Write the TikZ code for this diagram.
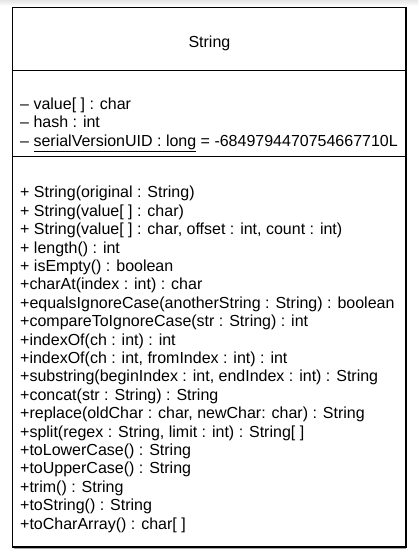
\documentclass[tikz,border=0pt]{standalone}
\usepackage{fontspec}
\setmainfont{Liberation Sans}
\begin{document}
\begin{tikzpicture}[x=1pt,y=-1pt,
  umltext/.style={anchor=base west,inner sep=0pt,align=left,font=\fontsize{16}{18.4}\selectfont},
  umltitle/.style={anchor=base,inner sep=0pt,font=\fontsize{16}{18.4}\selectfont},
  border/.style={draw=black,line width=1.3pt},
  sep/.style={draw=black,line width=1.2pt}]
\useasboundingbox (0,0) rectangle (418,556);
\fill[white] (0,0) rectangle (418,556);
\shade[top color=black!10,bottom color=white] (0,0) rectangle (418,6);
% shadow hints
\draw[black!35,line width=1pt] (405,8) -- (405,546);
\draw[black!35,line width=1pt] (14,548.5) -- (406,548.5);
\coordinate (tl) at (12.7,7.3);
\coordinate (br) at (406,547);
\draw[border] (tl) rectangle (br);
\coordinate (s1l) at (12.7,70.3);
\coordinate (s1r) at (406,70.3);
\coordinate (s2l) at (12.7,156.3);
\coordinate (s2r) at (406,156.3);
\draw[sep] (s1l) -- (s1r);
\draw[sep] (s2l) -- (s2r);
\node[umltitle] (title) at (209.4,47.5) {String};
% anchor base = baseline of the last line
\node[umltext] (attrs) at (20,146.3) {– value[ ] : char\\
– hash : int\\
– \underline{serialVersionUID : long} = -6849794470754667710L};
\node[umltext] (ops) at (20,529) {+ String(original : String)\\
+ String(value[ ] : char)\\
+ String(value[ ] : char, offset : int, count : int)\\
+ length() : int\\
+ isEmpty() : boolean\\
+charAt(index : int) : char\\
+equalsIgnoreCase(anotherString : String) : boolean\\
+compareToIgnoreCase(str : String) : int\\
+indexOf(ch : int) : int\\
+indexOf(ch : int, fromIndex : int) : int\\
+substring(beginIndex : int, endIndex : int) : String\\
+concat(str : String) : String\\
+replace(oldChar : char, newChar: char) : String\\
+split(regex : String, limit : int) : String[ ]\\
+toLowerCase() : String\\
+toUpperCase() : String\\
+trim() : String\\
+toString() : String\\
+toCharArray() : char[ ]};
\end{tikzpicture}
\end{document}
